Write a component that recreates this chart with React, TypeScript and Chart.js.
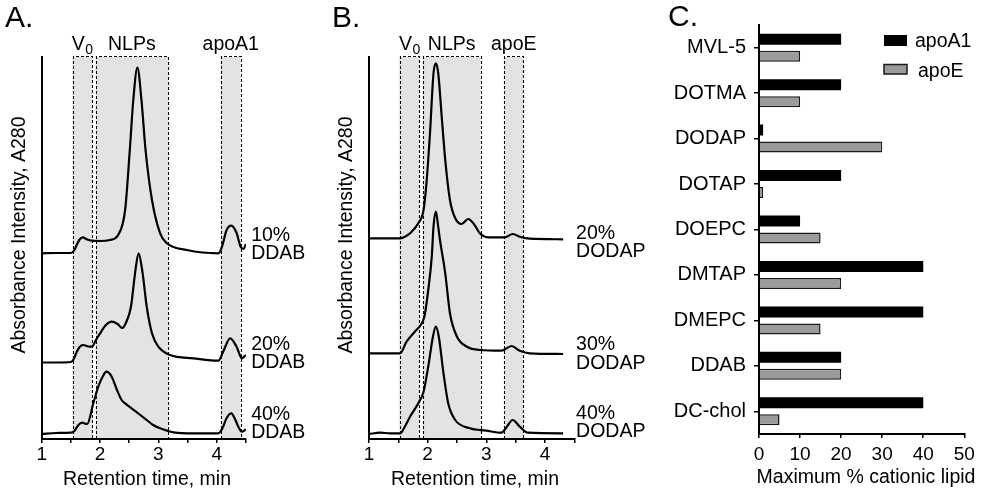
import React, { useEffect, useRef } from 'react';
import { Chart, registerables } from 'chart.js';

Chart.register(...registerables);

const FONT = "'Liberation Sans', Arial, Helvetica, sans-serif";
Chart.defaults.font.family = FONT;
Chart.defaults.color = '#000';

// ---------------- Panel A : DDAB, apoA1 (retention time in min, absorbance in arbitrary stacked units) ----------------
const timeA10 = [1.0, 1.25, 1.5, 1.56, 1.6, 1.65, 1.7, 1.78, 1.86, 2.0, 2.17, 2.31, 2.43, 2.51, 2.57, 2.64, 2.71, 2.78, 2.89, 3.03, 3.14, 3.49, 4.03, 4.09, 4.17, 4.25, 4.34, 4.41, 4.46, 4.5];
const absA10 = [185.7, 186, 186, 189, 194, 199.5, 201.7, 199.5, 198.3, 198, 199, 204, 229, 289, 339, 371.3, 339, 289, 239, 205.7, 196, 189, 185.7, 192.3, 209, 213.3, 206, 192.3, 190, 195];
const timeA20 = [1.0, 1.25, 1.5, 1.54, 1.6, 1.65, 1.71, 1.8, 1.86, 1.93, 2.0, 2.1, 2.2, 2.3, 2.38, 2.45, 2.53, 2.6, 2.66, 2.73, 2.8, 2.89, 3.0, 3.2, 3.6, 4.03, 4.11, 4.23, 4.34, 4.43, 4.5];
const absA20 = [76.5, 76.5, 77, 79, 87, 92, 94, 92.5, 92.3, 99, 105.7, 114, 117.3, 115, 111, 117, 132.3, 165.7, 185.7, 165.7, 132.3, 105.7, 92.3, 84, 80.7, 78.3, 87.3, 100.7, 92.3, 80.7, 84];
const timeA40 = [1.0, 1.25, 1.5, 1.56, 1.63, 1.69, 1.78, 1.885, 1.97, 2.06, 2.11, 2.2, 2.29, 2.37, 2.43, 2.54, 2.69, 2.8, 2.91, 3.03, 3.26, 3.6, 4.03, 4.1, 4.17, 4.25, 4.32, 4.37, 4.43, 4.5];
const absA40 = [5, 6, 6.3, 8, 14, 16.3, 15, 35.7, 52.3, 64, 67.3, 62.3, 49, 39, 35.7, 30.7, 24, 19, 14, 10.7, 6.7, 5.7, 5.7, 11, 21, 25.7, 19, 12.3, 7.3, 9.7];
const traceNamesA = [['10%', 'DDAB'], ['20%', 'DDAB'], ['40%', 'DDAB']];
const regionNamesA = ['V', 'NLPs', 'apoA1'];
const regionSubsA = ['0', '', ''];
const regionFromA = [1.53, 1.93, 4.07];
const regionToA = [1.86, 3.16, 4.41];
const ticksA = [1, 1.5, 2, 2.5, 3, 3.5, 4, 4.5];

// ---------------- Panel B : DODAP, apoE ----------------
const timeB20 = [1.0, 1.25, 1.53, 1.62, 1.7, 1.84, 1.93, 1.98, 2.04, 2.1, 2.14, 2.18, 2.24, 2.3, 2.38, 2.47, 2.58, 2.69, 2.78, 2.89, 3.03, 3.32, 3.45, 3.57, 3.74, 4.31];
const absB20 = [200.7, 200.7, 200.7, 202.5, 205.7, 215.7, 229, 256, 306, 366, 375.7, 366, 322, 279, 239, 220.7, 215, 220, 215.7, 205.7, 201.7, 201.7, 205, 202.3, 200.3, 199.7];
const timeB30 = [1.0, 1.25, 1.53, 1.64, 1.78, 1.9, 1.95, 2.01, 2.07, 2.1, 2.14, 2.18, 2.21, 2.3, 2.38, 2.5, 2.67, 2.89, 3.26, 3.43, 3.57, 3.74, 4.31];
const absB30 = [85.7, 85.7, 85.7, 97.3, 107.3, 115.7, 124, 149, 182.3, 212.3, 227.3, 212.3, 199, 165.7, 125.7, 102.3, 92.3, 89, 88.3, 93, 88.3, 85.7, 85];
const timeB40 = [1.0, 1.19, 1.36, 1.53, 1.61, 1.7, 1.84, 1.93, 2.01, 2.09, 2.14, 2.19, 2.27, 2.35, 2.47, 2.72, 3.0, 3.26, 3.35, 3.45, 3.57, 3.71, 4.31];
const absB40 = [5, 6.3, 5.7, 5.7, 12.3, 22.3, 35.7, 47.3, 72.3, 102.3, 112.3, 102.3, 65.7, 35.7, 19, 10.7, 8.3, 6.3, 12.3, 19, 12.3, 6.3, 5.7];
const traceNamesB = [['20%', 'DODAP'], ['30%', 'DODAP'], ['40%', 'DODAP']];
const regionNamesB = ['V', 'NLPs', 'apoE'];
const regionSubsB = ['0', '', ''];
const regionFromB = [1.52, 1.915, 3.306];
const regionToB = [1.857, 2.904, 3.63];
const ticksB = [1, 1.5, 2, 2.5, 3, 3.5, 4, 4.5];

// ---------------- Panel C : maximum % cationic lipid ----------------
const lipids = ['MVL-5', 'DOTMA', 'DODAP', 'DOTAP', 'DOEPC', 'DMTAP', 'DMEPC', 'DDAB', 'DC-chol'];
const apoA1Max = [20, 20, 1, 20, 10, 40, 40, 20, 40];
const apoEMax = [10, 10, 30, 1, 15, 20, 15, 20, 5];
const ticksC = [0, 10, 20, 30, 40, 50];

const CANVAS_H = 494;

function font(size: number) {
  return `${size}px ${FONT}`;
}

type ChromProps = {
  width: number;
  letter: string;
  letterX: number;
  traces: { t: number[]; a: number[] }[];
  traceNames: string[][];
  labelX: number;
  labelY: number[];
  lineGap: number;
  regionNames: string[];
  regionSubs: string[];
  regionFrom: number[];
  regionTo: number[];
  ticks: number[];
  areaLeft: number;
  areaRight: number;
  yTitleX: number;
  xTitleX: number;
};

function ChromPanel(p: ChromProps) {
  const ref = useRef<HTMLCanvasElement | null>(null);
  useEffect(() => {
    const canvas = ref.current!;
    const areaTop = 57;
    const areaBottom = 439;
    const plugin = {
      id: 'chromDecor',
      beforeDatasetsDraw(chart: any) {
        const { ctx, chartArea: ca, scales } = chart;
        const x = scales.x;
        ctx.save();
        ctx.fillStyle = '#e3e3e3';
        p.regionFrom.forEach((f, i) => {
          const x0 = x.getPixelForValue(f);
          const x1 = x.getPixelForValue(p.regionTo[i]);
          ctx.fillRect(x0, ca.top, x1 - x0, ca.bottom - ca.top - 1);
        });
        ctx.strokeStyle = '#000';
        ctx.lineWidth = 1.1;
        ctx.setLineDash([3, 2]);
        p.regionFrom.forEach((f, i) => {
          const x0 = Math.round(x.getPixelForValue(f)) + 0.5;
          const x1 = Math.round(x.getPixelForValue(p.regionTo[i])) + 0.5;
          const top = Math.round(ca.top) - 0.5;
          ctx.beginPath();
          ctx.moveTo(x0, ca.bottom);
          ctx.lineTo(x0, top);
          ctx.lineTo(x1, top);
          ctx.lineTo(x1, ca.bottom);
          ctx.stroke();
        });
        ctx.restore();
      },
      afterDraw(chart: any) {
        const { ctx, chartArea: ca, scales } = chart;
        const x = scales.x;
        const y = scales.y;
        ctx.save();
        ctx.fillStyle = '#000';
        // region names
        ctx.textBaseline = 'alphabetic';
        ctx.textAlign = 'left';
        p.regionNames.forEach((name, i) => {
          const cx = (x.getPixelForValue(p.regionFrom[i]) + x.getPixelForValue(p.regionTo[i])) / 2;
          ctx.font = font(19.5);
          const w1 = ctx.measureText(name).width;
          const sub = p.regionSubs[i];
          ctx.font = font(14);
          const w2 = sub ? ctx.measureText(sub).width : 0;
          const start = cx - (w1 + w2) / 2;
          ctx.font = font(19.5);
          ctx.fillText(name, start, ca.top - 7);
          if (sub) {
            ctx.font = font(14);
            ctx.fillText(sub, start + w1 + 0.5, ca.top - 3.5);
          }
        });
        // trace names
        ctx.font = font(19.5);
        ctx.textBaseline = 'middle';
        p.traceNames.forEach((lines, i) => {
          const lx = x.getPixelForValue(p.labelX);
          const ly = y.getPixelForValue(p.labelY[i]);
          lines.forEach((ln, k) => ctx.fillText(ln, lx, ly + k * p.lineGap));
        });
        // x-axis title
        ctx.textAlign = 'center';
        ctx.fillText('Retention time, min', p.xTitleX, 479.5);
        // panel letter
        ctx.textAlign = 'left';
        ctx.font = font(30);
        ctx.textBaseline = 'alphabetic';
        ctx.fillText(p.letter, p.letterX, 27);
        // y-axis title
        ctx.font = font(19.5);
        ctx.translate(p.yTitleX, 235);
        ctx.rotate(-Math.PI / 2);
        ctx.textAlign = 'center';
        ctx.textBaseline = 'middle';
        ctx.fillText('Absorbance Intensity, A280', 0, 0);
        ctx.restore();
      },
    };

    const chart = new Chart(canvas, {
      type: 'line',
      data: {
        datasets: p.traces.map((tr) => ({
          data: tr.t.map((t, i) => ({ x: t, y: tr.a[i] })),
          borderColor: '#000',
          borderWidth: 2.2,
          pointRadius: 0,
          fill: false,
          cubicInterpolationMode: 'monotone',
        })),
      },
      options: {
        animation: false,
        responsive: false,
        layout: { padding: { left: 0, top: areaTop, right: p.width - p.areaRight, bottom: 0 } },
        plugins: { legend: { display: false }, tooltip: { enabled: false } },
        scales: {
          x: {
            type: 'linear',
            min: p.ticks[0],
            max: p.ticks[p.ticks.length - 1],
            afterBuildTicks: (s: any) => {
              s.ticks = p.ticks.map((v) => ({ value: v }));
            },
            afterFit: (s: any) => {
              s.height = CANVAS_H - areaBottom;
            },
            grid: { display: true, drawOnChartArea: false, drawTicks: true, tickLength: 4, color: '#000', lineWidth: 1.5 },
            border: { display: true, color: '#000', width: 2 },
            ticks: {
              font: { size: 19 },
              color: '#000',
              padding: 0.5,
              maxRotation: 0,
              autoSkip: false,
              callback: (v: any) => (Number.isInteger(Number(v)) ? String(v) : ''),
            },
            title: { display: false },
          },
          y: {
            type: 'linear',
            min: 0,
            max: areaBottom - areaTop,
            afterFit: (s: any) => {
              s.width = p.areaLeft;
            },
            grid: { display: false },
            ticks: { display: false },
            border: { display: true, color: '#000', width: 2 },
          },
        },
      } as any,
      plugins: [plugin],
    });
    return () => chart.destroy();
  }, []);
  return <canvas ref={ref} width={p.width} height={CANVAS_H} style={{ display: 'block', width: p.width, height: CANVAS_H }} />;
}

function BarPanel() {
  const ref = useRef<HTMLCanvasElement | null>(null);
  useEffect(() => {
    const canvas = ref.current!;
    const width = 321;
    const areaLeft = 99;
    const areaRight = 304.3;
    const areaTop = 25;
    const areaBottom = 434;
    const plugin = {
      id: 'barDecor',
      afterDraw(chart: any) {
        const { ctx } = chart;
        ctx.save();
        // legend
        const ds = chart.data.datasets;
        const boxes = [
          { y: 35, h: 11, tx: 255, ty: 46.7 },
          { y: 64.5, h: 9.5, tx: 258, ty: 77.3 },
        ];
        ds.forEach((d: any, i: number) => {
          const b = boxes[i];
          ctx.fillStyle = d.backgroundColor;
          ctx.fillRect(224, b.y, 23, b.h);
          if (d.borderWidth) {
            ctx.strokeStyle = d.borderColor;
            ctx.lineWidth = d.borderWidth;
            ctx.strokeRect(224, b.y, 23, b.h);
          }
          ctx.fillStyle = '#000';
          ctx.font = font(19.5);
          ctx.textBaseline = 'alphabetic';
          ctx.textAlign = 'left';
          ctx.fillText(d.label, b.tx, b.ty);
        });
        // x-axis title
        ctx.textAlign = 'center';
        ctx.textBaseline = 'middle';
        ctx.fillText('Maximum % cationic lipid', 206, 478);
        // panel letter
        ctx.textAlign = 'left';
        ctx.textBaseline = 'alphabetic';
        ctx.font = font(30);
        ctx.fillText('C.', 8, 26);
        ctx.restore();
      },
    };
    const chart = new Chart(canvas, {
      type: 'bar',
      data: {
        labels: lipids,
        datasets: [
          { label: 'apoA1', data: apoA1Max, backgroundColor: '#000', borderColor: '#000', borderWidth: 0 },
          { label: 'apoE', data: apoEMax, backgroundColor: '#9b9b9b', borderColor: '#1a1a1a', borderWidth: 1.5 },
        ],
      },
      options: {
        indexAxis: 'y',
        animation: false,
        responsive: false,
        layout: { padding: { left: 0, top: areaTop, right: width - areaRight, bottom: 0 } },
        datasets: { bar: { categoryPercentage: 0.748, barPercentage: 0.647 } },
        plugins: { legend: { display: false }, tooltip: { enabled: false } },
        scales: {
          x: {
            type: 'linear',
            min: ticksC[0],
            max: ticksC[ticksC.length - 1],
            afterBuildTicks: (s: any) => {
              s.ticks = ticksC.map((v) => ({ value: v }));
            },
            afterFit: (s: any) => {
              s.height = CANVAS_H - areaBottom;
            },
            grid: { display: true, drawOnChartArea: false, tickLength: 4, color: '#000', lineWidth: 1.5 },
            border: { display: true, color: '#000', width: 2 },
            ticks: { font: { size: 19 }, color: '#000', padding: 5.5, maxRotation: 0, autoSkip: false },
            title: { display: false },
          },
          y: {
            type: 'category',
            afterFit: (s: any) => {
              s.width = areaLeft;
            },
            grid: { display: true, drawOnChartArea: false, offset: false, tickLength: 5, color: '#000', lineWidth: 1.5 },
            border: { display: true, color: '#000', width: 2 },
            ticks: { font: { size: 20 }, color: '#000', padding: 8, autoSkip: false },
          },
        },
      } as any,
      plugins: [plugin],
    });
    return () => chart.destroy();
  }, []);
  return <canvas ref={ref} width={321} height={CANVAS_H} style={{ display: 'block', width: 321, height: CANVAS_H }} />;
}

export default function App() {
  return (
    <div style={{ position: 'fixed', left: 0, top: 0, width: 981, height: CANVAS_H, background: '#fff', overflow: 'hidden' }}>
      <div style={{ position: 'absolute', left: 0, top: 0 }}>
        <ChromPanel
          width={330}
          letter="A."
          letterX={5}
          traces={[
            { t: timeA10, a: absA10 },
            { t: timeA20, a: absA20 },
            { t: timeA40, a: absA40 },
          ]}
          traceNames={traceNamesA}
          labelX={4.59}
          labelY={[203, 94, 24]}
          lineGap={18}
          regionNames={regionNamesA}
          regionSubs={regionSubsA}
          regionFrom={regionFromA}
          regionTo={regionToA}
          ticks={ticksA}
          areaLeft={41.7}
          areaRight={245.9}
          yTitleX={19.2}
          xTitleX={147}
        />
      </div>
      <div style={{ position: 'absolute', left: 330, top: 0 }}>
        <ChromPanel
          width={330}
          letter="B."
          letterX={2}
          traces={[
            { t: timeB20, a: absB20 },
            { t: timeB30, a: absB30 },
            { t: timeB40, a: absB40 },
          ]}
          traceNames={traceNamesB}
          labelX={4.53}
          labelY={[205.7, 94, 25.7]}
          lineGap={18.5}
          regionNames={regionNamesB}
          regionSubs={regionSubsB}
          regionFrom={regionFromB}
          regionTo={regionToB}
          ticks={ticksB}
          areaLeft={39}
          areaRight={244.3}
          yTitleX={16.5}
          xTitleX={145}
        />
      </div>
      <div style={{ position: 'absolute', left: 660, top: 0 }}>
        <BarPanel />
      </div>
    </div>
  );
}
